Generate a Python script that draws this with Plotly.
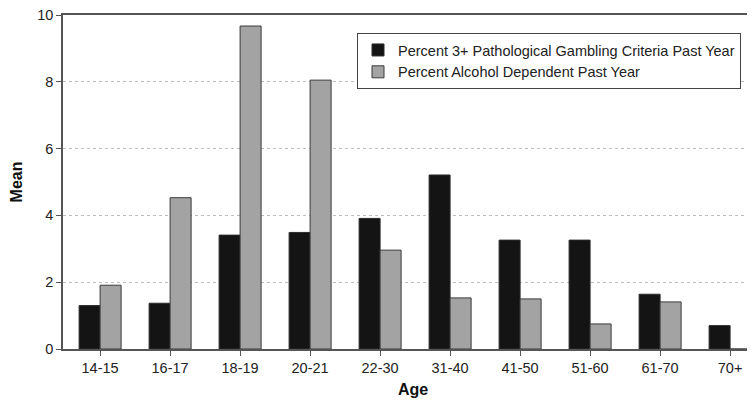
import plotly.graph_objects as go

ages = ["14-15", "16-17", "18-19", "20-21", "22-30", "31-40", "41-50", "51-60", "61-70", "70+"]
gambling = [1.3, 1.37, 3.41, 3.49, 3.91, 5.21, 3.26, 3.26, 1.64, 0.70]
alcohol = [1.91, 4.53, 9.67, 8.05, 2.96, 1.53, 1.50, 0.75, 1.41, 0.0]
y_ticks = [0, 2, 4, 6, 8, 10]

font_family = "Liberation Sans, Arial, sans-serif"

fig = go.Figure()
fig.add_trace(go.Bar(
    x=ages, y=gambling, name="Percent 3+ Pathological Gambling Criteria Past Year",
    marker=dict(color="#141414", line=dict(color="#2a2a2a", width=1)),
))
fig.add_trace(go.Bar(
    x=ages, y=alcohol, name="Percent Alcohol Dependent Past Year",
    marker=dict(color="#a3a3a3", line=dict(color="#3a3a3a", width=1)),
))

# page body has an 8px default margin; margins compensate for it
fig.update_layout(
    width=755, height=416,
    margin=dict(l=55, r=0, t=7, b=75),
    paper_bgcolor="white", plot_bgcolor="white",
    barmode="group", bargap=0.4, bargroupgap=0,
    font=dict(family=font_family, size=14, color="#222222"),
    showlegend=True,
    legend=dict(
        x=0.42, y=0.946, xanchor="left", yanchor="top",
        bgcolor="white", bordercolor="#444444", borderwidth=1,
        font=dict(size=14.5, color="#222222"),
        itemwidth=30, tracegroupgap=0,
    ),
    xaxis=dict(
        range=[-0.53, 9.47], automargin=False,
        showline=True, linecolor="#555555", linewidth=1.5, mirror=True,
        ticks="outside", ticklen=5, tickcolor="#555555",
        showgrid=False,
        title=dict(text="<b>Age</b>", font=dict(size=16, color="#111111"), standoff=9),
        tickfont=dict(size=14.5),
    ),
    yaxis=dict(
        range=[0, 10], tickvals=y_ticks, automargin=False,
        ticklabeloverflow="allow",
        showline=True, linecolor="#555555", linewidth=1.5,
        ticks="outside", ticklen=5, tickcolor="#555555",
        showgrid=True, gridcolor="#bdbdbd", griddash="dot", gridwidth=1,
        zeroline=False,
        title=dict(text="<b>Mean</b>", font=dict(size=16, color="#111111"), standoff=14),
        tickfont=dict(size=14.5),
    ),
)

fig.write_html("out.html", config={"displayModeBar": False})
